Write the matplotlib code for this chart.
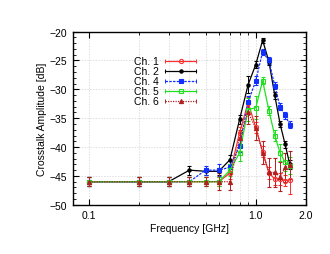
import matplotlib
matplotlib.use("Agg")
import matplotlib.pyplot as plt
from matplotlib.lines import Line2D
from matplotlib.legend_handler import HandlerLine2D
from matplotlib.ticker import FixedLocator, NullFormatter, MultipleLocator

plt.rcParams['font.family'] = ['Liberation Sans', 'DejaVu Sans']

freq = [0.1, 0.2, 0.3, 0.4, 0.5, 0.6, 0.7, 0.8, 0.9, 1.0, 1.1, 1.2, 1.3, 1.4, 1.5, 1.6]

ch1 = [-46, -46, -46, -46, -46, -46, -44.5, -37.5, -32.3, -36.6, -40.8, -44.5, -45.5, -45.5, -45.8, -45.7]
ch1_err = [0.8, 0.8, 0.8, 0.8, 0.8, 0.8, 1.0, 1.0, 1.0, 1.0, 1.0, 1.0, 1.0, 1.0, 1.0, 2.5]

ch2 = [-46, -46, -46, -44.0, -44.2, -44.2, -42.2, -35.2, -29.2, -25.7, -21.5, -25.2, -31.0, -36.0, -39.5, -43.0]
ch2_err = [0.8, 0.8, 0.8, 0.8, 0.6, 0.6, 0.8, 0.8, 1.5, 0.6, 0.4, 0.6, 0.6, 0.6, 0.6, 0.8]

ch4 = [-46, -46, -46, -46, -44.0, -44.0, -43.5, -39.8, -32.2, -28.5, -23.5, -25.0, -29.4, -33.0, -34.5, -36.1]
ch4_err = [0.8, 0.8, 0.8, 0.8, 0.8, 1.0, 1.0, 1.0, 1.0, 0.8, 0.5, 0.6, 0.6, 0.6, 0.6, 0.6]

ch5 = [-46, -46, -46, -46, -46, -46, -44.0, -41.0, -33.5, -33.2, -28.5, -33.7, -38.0, -41.0, -42.6, -43.2]
ch5_err = [0.8, 0.8, 0.8, 0.8, 0.8, 0.8, 1.0, 1.5, 2.0, 2.0, 0.6, 0.8, 1.0, 1.5, 1.5, 1.5]

ch6 = [-46, -46, -46, -46, -46, -46, -46.0, -38.5, -34.0, -36.7, -41.0, -44.4, -44.4, -45.1, -43.5, -43.1]
ch6_err = [0.8, 0.8, 0.8, 0.8, 0.8, 1.5, 1.5, 1.5, 2.0, 2.0, 2.0, 2.5, 2.5, 2.5, 2.5, 2.5]

labels = ["Ch. 1", "Ch. 2", "Ch. 4", "Ch. 5", "Ch. 6"]

fig = plt.figure(figsize=(3.3, 2.55), dpi=100)
ax = fig.add_axes([0.221, 0.193, 0.706, 0.679])

styles = [
    (ch1, ch1_err, '#ff3030', 'o', 'none', '-'),
    (ch2, ch2_err, '#000000', 'o', '#000000', '-'),
    (ch4, ch4_err, '#1030ff', 's', '#1030ff', (0, (2, 1))),
    (ch5, ch5_err, '#20e020', 's', 'none', '-'),
    (ch6, ch6_err, '#b02020', '^', '#b02020', (0, (1, 1))),
]
ms = [3.0, 2.4, 2.8, 3.3, 3.0]
handles = []
hmap = {}
for (y, e, c, m, mfc, ls), lab, s in zip(styles, labels, ms):
    ax.errorbar(freq, y, yerr=e, color=c, marker=m, mfc=mfc, mec=c, ms=s,
                mew=0.8, ls=ls, lw=0.9, elinewidth=0.7, capsize=1.5,
                capthick=0.7)
    main = Line2D([], [], color=c, ls=ls, lw=0.9, marker=m, mfc=mfc, mec=c,
                  ms=s, mew=0.8)
    cap = Line2D([], [], color=c, ls='none', marker='|', ms=3.5, mew=0.7)
    handles.append((main, cap))
    hmap[cap] = HandlerLine2D(numpoints=2, marker_pad=0.0)

ax.set_xscale('log')
ax.set_xlim(0.08, 2.0)
ax.set_ylim(-50, -20)
ax.xaxis.set_major_locator(FixedLocator([0.1, 1.0, 2.0]))
ax.set_xticklabels(['0.1', '1.0', '2.0'])
ax.xaxis.set_minor_locator(FixedLocator([0.2, 0.3, 0.4, 0.5, 0.6, 0.7, 0.8, 0.9]))
ax.xaxis.set_minor_formatter(NullFormatter())
ax.yaxis.set_major_locator(MultipleLocator(5))
ax.yaxis.set_minor_locator(MultipleLocator(1))

ax.grid(True, which='both', axis='x', color='#d0d0d0', ls=(0, (2, 2)), lw=0.5)
ax.grid(True, which='major', axis='y', color='#d0d0d0', ls=(0, (2, 2)), lw=0.5)
ax.set_axisbelow(True)

ax.tick_params(which='both', direction='in', top=True, right=True, labelsize=7.5, pad=4)
ax.tick_params(which='major', length=4, width=0.8)
ax.tick_params(which='minor', length=2, width=0.6)
for sp in ax.spines.values():
    sp.set_linewidth(1.0)

ax.set_xlabel('Frequency [GHz]', fontsize=7.5, labelpad=2)
ax.set_ylabel('Crosstalk Amplitude [dB]', fontsize=7.5, labelpad=2)

leg = ax.legend(handles, labels, handler_map=hmap, loc='upper left',
                bbox_to_anchor=(0.23, 0.90), frameon=False,
                markerfirst=False, fontsize=7.5, handlelength=3.0,
                handletextpad=0.6, labelspacing=0.0, borderpad=0.2)

fig.savefig('out.png', dpi=100)
